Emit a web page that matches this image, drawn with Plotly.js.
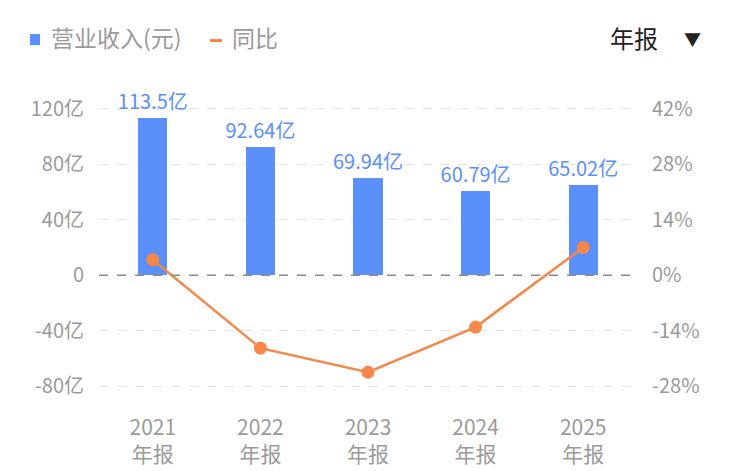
<!DOCTYPE html>
<html>
<head>
<meta charset="utf-8">
<script src="https://cdn.plot.ly/plotly-3.0.1.min.js"></script>
<style>html,body{margin:0;padding:0;background:#fff;}#chart{width:733px;height:471px;}</style>
</head>
<body>
<div id="chart"></div>
<script>
const categories = ["2021<br>年报", "2022<br>年报", "2023<br>年报", "2024<br>年报", "2025<br>年报"];
const revenue = [113.5, 92.64, 69.94, 60.79, 65.02];          // 亿元
const revenueLabels = ["113.5亿", "92.64亿", "69.94亿", "60.79亿", "65.02亿"];
const yoy = [3.9, -18.4, -24.5, -13.1, 7.0];                  // %
const leftTicks = [-80, -40, 0, 40, 80, 120];
const leftTickText = ["-80亿", "-40亿", "0", "40亿", "80亿", "120亿"];
const rightTicks = [-28, -14, 0, 14, 28, 42];
const rightTickText = ["-28%", "-14%", "0%", "14%", "28%", "42%"];

const FONT = "'Noto Sans CJK SC', 'Noto Sans', sans-serif";
const BLUE = "#5B8FF9";
const ORANGE = "#F6874B";
const GRAY = "#9a9a9a";

const traces = [
  {
    type: "bar", x: categories, y: revenue, name: "营业收入(元)",
    marker: {color: BLUE}, width: 0.27,
    text: revenueLabels, textposition: "outside", cliponaxis: false,
    constraintext: "none",
    textfont: {family: FONT, size: 20, color: BLUE},
    hoverinfo: "skip"
  },
  {
    type: "scatter", mode: "lines+markers", x: categories, y: yoy, name: "同比",
    yaxis: "y2", line: {color: ORANGE, width: 2.5},
    marker: {color: ORANGE, size: 13}, cliponaxis: false, hoverinfo: "skip"
  }
];

const layout = {
  width: 733, height: 471,
  margin: {l: 99, r: 96, t: 95, b: 71},
  paper_bgcolor: "#fff", plot_bgcolor: "#fff",
  showlegend: false,
  font: {family: FONT, color: GRAY, size: 20},
  xaxis: {
    type: "category", showgrid: false, zeroline: false, showline: false, ticks: "",
    ticklabelstandoff: 13,
    tickfont: {family: FONT, size: 21, color: GRAY}, fixedrange: true
  },
  yaxis: {
    range: [-90, 130], tickvals: leftTicks, ticktext: leftTickText,
    showgrid: true, gridcolor: "#e3e3e3", griddash: "dash", gridwidth: 1,
    zeroline: false, showline: false, ticks: "", ticklabelstandoff: 14,
    tickfont: {family: FONT, size: 20, color: GRAY}
  },
  yaxis2: {
    overlaying: "y", side: "right", range: [-31.5, 45.5],
    tickvals: rightTicks, ticktext: rightTickText,
    showgrid: false, zeroline: false, showline: false, ticks: "", ticklabelstandoff: 14,
    tickfont: {family: FONT, size: 20, color: GRAY}
  },
  bargap: 0,
  shapes: [
    {type: "line", xref: "paper", yref: "y", x0: 0, x1: 1, y0: 0, y1: 0,
     line: {color: "#8a8a8a", width: 1.5, dash: "dash"}, layer: "above"},
    {type: "rect", xref: "paper", yref: "paper", xsizemode: "pixel", ysizemode: "pixel",
     xanchor: 0, yanchor: 1.19, x0: -69, x1: -59, y0: -8, y1: 3,
     fillcolor: BLUE, line: {width: 0}},
    {type: "rect", xref: "paper", yref: "paper", xsizemode: "pixel", ysizemode: "pixel",
     xanchor: 0, yanchor: 1.19, x0: 111, x1: 123, y0: -5, y1: -2,
     fillcolor: ORANGE, line: {width: 0}}
  ],
  annotations: [
    {xref: "paper", yref: "paper", x: 0, y: 1.19, xanchor: "left", yanchor: "middle",
     xshift: -50, showarrow: false, text: "营业收入(元)",
     font: {family: FONT, size: 23, color: GRAY}},
    {xref: "paper", yref: "paper", x: 0, y: 1.19, xanchor: "left", yanchor: "middle",
     xshift: 131, showarrow: false, text: "同比",
     font: {family: FONT, size: 23, color: GRAY}},
    {xref: "paper", yref: "paper", x: 1, y: 1.19, xanchor: "center", yanchor: "middle",
     xshift: -3, showarrow: false, text: "年报",
     font: {family: FONT, size: 24, color: "#222"}},
    {xref: "paper", yref: "paper", x: 1, y: 1.19, xanchor: "center", yanchor: "middle",
     xshift: 55, yshift: -1, showarrow: false, text: "▼",
     font: {family: FONT, size: 17, color: "#222"}}
  ]
};

Plotly.newPlot("chart", traces, layout, {displayModeBar: false, staticPlot: true});
</script>
</body>
</html>
